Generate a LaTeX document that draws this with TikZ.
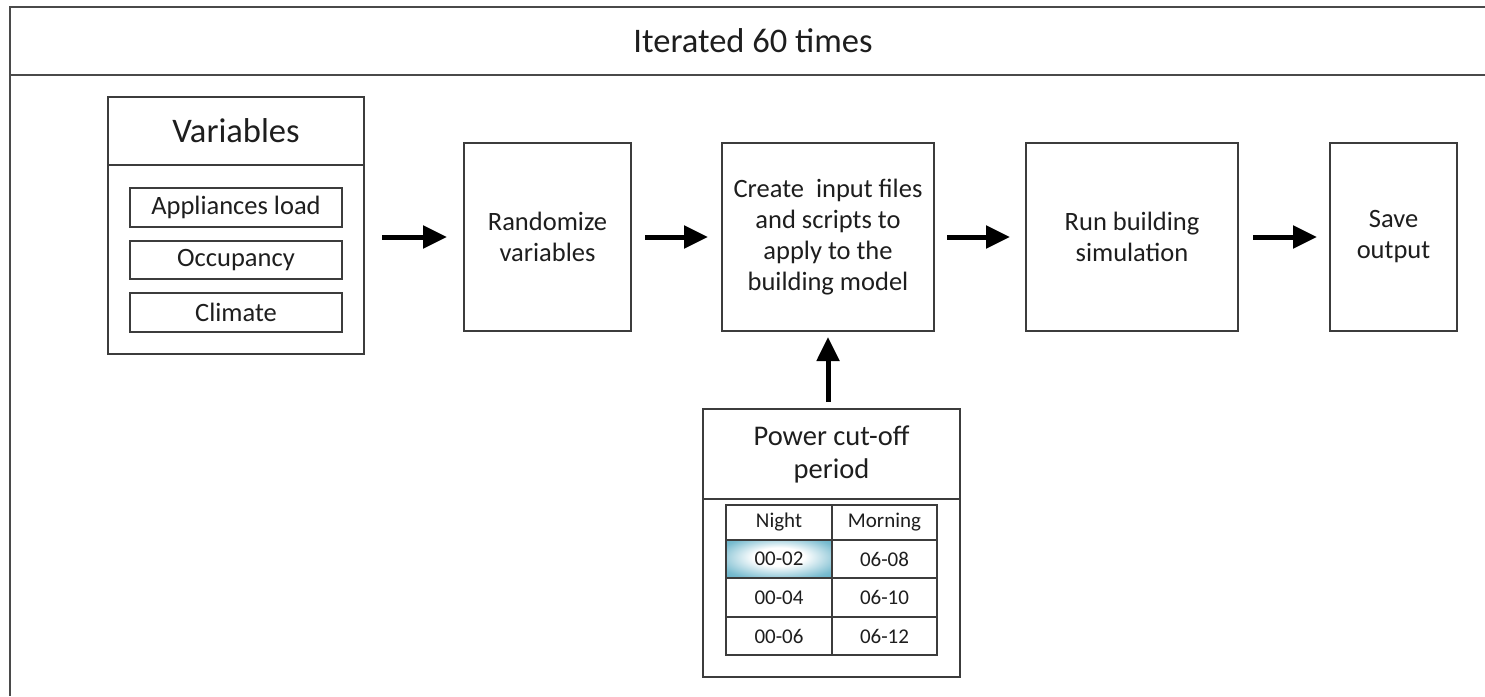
\documentclass[tikz,border=0pt]{standalone}
\usepackage{fontspec}
\setmainfont{Carlito}
\usetikzlibrary{arrows.meta}
\definecolor{bordc}{HTML}{3C3C3C}
\definecolor{framec}{HTML}{4A4A4A}
\definecolor{txtc}{HTML}{1E1E1E}
\definecolor{tealc}{HTML}{4DA6C0}
\pgfdeclareradialshading{cellglow}{\pgfpoint{0bp}{4bp}}{%
  color(0bp)=(white); color(12bp)=(white); color(30bp)=(tealc!75!white);
  color(42bp)=(tealc); color(50bp)=(tealc)}
\begin{document}
\begin{tikzpicture}[x=1pt,y=-1pt,
  box/.style={draw=bordc, line width=2pt, inner sep=0pt, fill=white},
  itembox/.style={draw=bordc, line width=1.8pt, inner sep=0pt, minimum width=212pt},
  cell/.style={draw=bordc, line width=1.8pt, inner sep=0pt, text=txtc, font=\fontsize{21}{25}\selectfont},
  txt/.style={align=center, text=txtc, font=\fontsize{26.5}{31}\selectfont},
  big/.style={text=txtc, font=\fontsize{34.5}{40}\selectfont},
  arr/.style={-{Triangle[length=24pt,width=22pt]}, line width=5pt, black},
]
\useasboundingbox (0,0) rectangle (1485,696);
% outer frame (clipped at right and bottom)
\draw[line width=2.5pt, draw=framec] (1485,7) -- (10,7) -- (10,696);
\draw[line width=2.5pt, draw=framec] (10,75) -- (1485,75);
\node[big] (title) at (753,41) {Iterated 60 times};

% Variables box
\node[box, minimum width=256pt, minimum height=257pt] (var) at (236,225.5) {};
\draw[draw=bordc, line width=2pt] (var.west |- 0,165) -- (var.east |- 0,165);
\node[big] (varlab) at (236,131) {Variables};
\node[itembox, txt, minimum height=39pt] (app) at (236,207.5) {Appliances load};
\node[itembox, txt, minimum height=38pt] (occ) at (236,260) {Occupancy};
\node[itembox, txt, minimum height=39pt] (cli) at (236,312.5) {Climate};

% process boxes
\node[box, txt, minimum width=167pt, minimum height=188pt] (rand) at (547.5,237) {Randomize\\variables};
\node[box, txt, minimum width=212pt, minimum height=188pt] (create) at (828,237) {Create\ \ input files\\and scripts to\\apply to the\\building model};
\node[box, txt, minimum width=212pt, minimum height=188pt] (run) at (1132,237) {Run building\\simulation};
\node[box, txt, minimum width=127pt, minimum height=188pt] (save) at (1393.5,237) {Save\\output};

% power cut-off box
\node[box, minimum width=257pt, minimum height=268pt] (pow) at (831.5,543) {};
\draw[draw=bordc, line width=2pt] (pow.west |- 0,499) -- (pow.east |- 0,499);
\node[txt, font=\fontsize{28.5}{33}\selectfont] (powlab) at (831.5,454) {Power cut-off\\period};

% table
\node[cell, minimum width=106pt, minimum height=35pt] (c11) at (779,522.5) {Night};
\node[cell, minimum width=105pt, minimum height=35pt] (c12) at (884.5,522.5) {Morning};
\node[cell, minimum width=106pt, minimum height=38pt, shading=cellglow] (c21) at (779,559) {00-02};
\node[cell, minimum width=105pt, minimum height=38pt] (c22) at (884.5,559) {06-08};
\node[cell, minimum width=106pt, minimum height=39pt] (c31) at (779,597.5) {00-04};
\node[cell, minimum width=105pt, minimum height=39pt] (c32) at (884.5,597.5) {06-10};
\node[cell, minimum width=106pt, minimum height=38pt] (c41) at (779,636) {00-06};
\node[cell, minimum width=105pt, minimum height=38pt] (c42) at (884.5,636) {06-12};

% arrows
\draw[arr, shorten <=17pt, shorten >=16pt] (var.east |- rand.west) -- (rand.west);
\draw[arr, shorten <=13pt, shorten >=13pt] (rand.east) -- (create.west);
\draw[arr, shorten <=12pt, shorten >=15pt] (create.east) -- (run.west);
\draw[arr, shorten <=14pt, shorten >=12pt] (run.east) -- (save.west);
\draw[arr, shorten <=6pt, shorten >=5pt] (create.south |- pow.north) -- (create.south);
\end{tikzpicture}
\end{document}
